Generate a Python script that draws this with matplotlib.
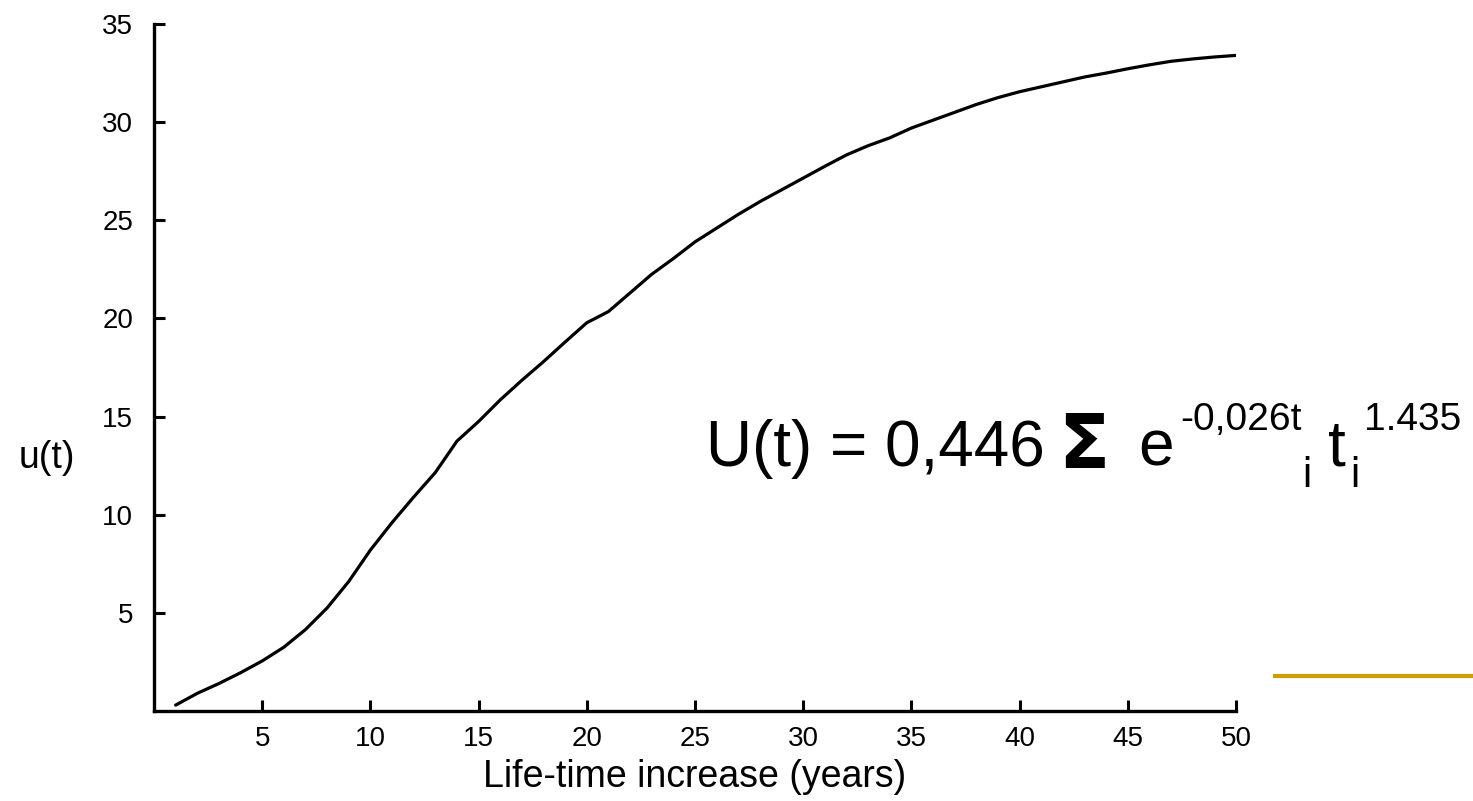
import matplotlib
matplotlib.use("Agg")
import matplotlib.pyplot as plt
from matplotlib.lines import Line2D

# Cumulative utility u(t) against life-time increase (years)
years = list(range(1, 51))
utility = [
    0.30, 0.90, 1.40, 1.95, 2.55, 3.25, 4.15, 5.25, 6.60, 8.20,
    9.60, 10.90, 12.15, 13.75, 14.75, 15.85, 16.85, 17.80, 18.80, 19.78,
    20.35, 21.30, 22.25, 23.05, 23.90, 24.60, 25.30, 25.95, 26.55, 27.15,
    27.75, 28.33, 28.80, 29.20, 29.70, 30.10, 30.50, 30.90, 31.25, 31.55,
    31.80, 32.05, 32.30, 32.50, 32.72, 32.92, 33.10, 33.22, 33.32, 33.40,
]
x_ticks = [5, 10, 15, 20, 25, 30, 35, 40, 45, 50]
y_ticks = [5, 10, 15, 20, 25, 30, 35]

W, H = 1473, 801
fig = plt.figure(figsize=(W / 100, H / 100), dpi=100)
fig.patch.set_facecolor("white")

sans = ["Liberation Sans", "DejaVu Sans"]


def fx(px):
    return px / W


def fy(py):
    return 1 - py / H


ax = fig.add_axes([fx(154), fy(711), fx(1236) - fx(154), fy(24) - fy(711)])
ax.plot(years, utility, color="black", lw=2.3, solid_capstyle="round")

ax.set_xlim(0, 50)
ax.set_ylim(0, 35)
ax.set_xticks(x_ticks)
ax.set_yticks(y_ticks)
ax.set_xticklabels([str(v) for v in x_ticks], family=sans, fontsize=20)
ax.set_yticklabels([str(v) for v in y_ticks], family=sans, fontsize=20)
ax.tick_params(axis="both", direction="in", length=8, width=2.2, color="black")
ax.tick_params(axis="x", pad=11)
ax.tick_params(axis="y", pad=15)

for side in ("top", "right"):
    ax.spines[side].set_visible(False)
for side in ("left", "bottom"):
    ax.spines[side].set_linewidth(2.4)
    ax.spines[side].set_color("black")

ax.set_xlabel("Life-time increase (years)", family=sans, fontsize=27, labelpad=5)
ax.set_ylabel("u(t)", family=sans, fontsize=27, rotation=0, ha="center", va="center")
ax.yaxis.set_label_coords(-0.099, 0.368)

# Formula of the utility function
big = 46
small = 28
sub = 30
fig.text(fx(706), fy(466), "U(t) = 0,446", family=sans, fontsize=big, va="baseline", ha="left")
fig.text(fx(1058), fy(468), "\u03a3", family=["DejaVu Sans"], fontweight="bold",
         fontsize=54, va="baseline", ha="left")
fig.text(fx(1138), fy(466), "e", family=sans, fontsize=big, va="baseline", ha="left")
fig.text(fx(1180), fy(430), "-0,026t", family=sans, fontsize=small, va="baseline", ha="left")
fig.text(fx(1302), fy(487), "i", family=sans, fontsize=sub, va="baseline", ha="left")
fig.text(fx(1328), fy(466), "t", family=sans, fontsize=big, va="baseline", ha="left")
fig.text(fx(1350), fy(487), "i", family=sans, fontsize=sub, va="baseline", ha="left")
fig.text(fx(1364), fy(430), "1.435", family=sans, fontsize=small, va="baseline", ha="left")

# Decorative rule at the lower right
fig.add_artist(Line2D([fx(1275), fx(1473)], [fy(676), fy(676)],
                      transform=fig.transFigure, color="#D09E00", lw=3))

fig.savefig("out.png", dpi=100, facecolor="white")
